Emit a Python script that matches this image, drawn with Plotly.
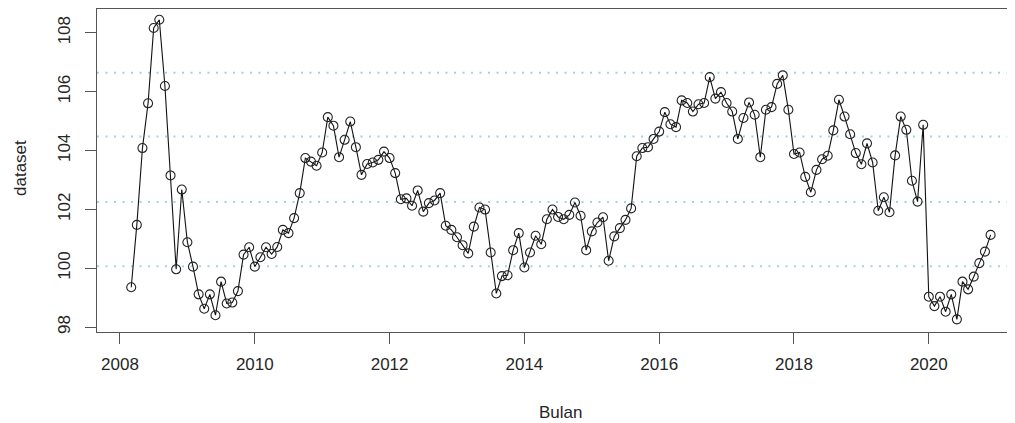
import plotly.graph_objects as go

start_year = 2008
start_month = 3  # March 2008

values = [
    99.35, 101.47, 104.08, 105.60, 108.16, 108.44, 106.19, 103.15, 99.96, 102.67,
    100.88, 100.05, 99.11, 98.62, 99.11, 98.40, 99.54, 98.80, 98.83, 99.22,
    100.46, 100.71, 100.05, 100.37, 100.71, 100.48, 100.72, 101.30, 101.19, 101.70,
    102.55, 103.74, 103.62, 103.48, 103.93, 105.13, 104.84, 103.77, 104.36, 104.98,
    104.11, 103.17, 103.54, 103.59, 103.68, 103.96, 103.74, 103.23, 102.34, 102.37,
    102.12, 102.64, 101.92, 102.21, 102.30, 102.55, 101.44, 101.30, 101.05, 100.78,
    100.50, 101.41, 102.06, 101.99, 100.53, 99.14, 99.73, 99.76, 100.61, 101.19,
    100.02, 100.53, 101.10, 100.81, 101.66, 101.99, 101.74, 101.66, 101.81, 102.23,
    101.78, 100.61, 101.25, 101.55, 101.73, 100.25, 101.08, 101.36, 101.64, 102.03,
    103.80, 104.08, 104.11, 104.39, 104.64, 105.30, 104.89, 104.79, 105.70, 105.61,
    105.32, 105.57, 105.61, 106.49, 105.76, 105.98, 105.61, 105.32, 104.39, 105.10,
    105.63, 105.21, 103.77, 105.38, 105.47, 106.26, 106.55, 105.38, 103.88, 103.93,
    103.10, 102.58, 103.34, 103.70, 103.82, 104.68, 105.72, 105.15, 104.55, 103.91,
    103.53, 104.24, 103.59, 101.95, 102.41, 101.90, 103.83, 105.15, 104.70, 102.97,
    102.26, 104.87, 99.03, 98.71, 99.03, 98.52, 99.11, 98.26, 99.54, 99.28,
    99.71, 100.17, 100.56, 101.13,
]

ref_lines = [106.64, 104.47, 102.25, 100.06]
x_ticks = [2008, 2010, 2012, 2014, 2016, 2018, 2020]
y_ticks = [98, 100, 102, 104, 106, 108]

times = [start_year + (start_month - 1 + i) / 12 for i in range(len(values))]

FONT = "Liberation Sans, Arial, sans-serif"
TXT = "#262626"

# page body has an 8px margin; figure spans page x 8..1015, y 8..423
PH = 323  # plot-area height in px (page y 9..332)
PW = 918  # plot-area width in px (page x 97..1015)

fig = go.Figure()

for h in ref_lines:
    fig.add_shape(type="line", xref="paper", x0=0, x1=1, yref="y", y0=h, y1=h,
                  line=dict(color="#a6d2e3", width=2, dash="2px,6.5px"), layer="below")

fig.add_trace(go.Scatter(
    x=times, y=values, mode="lines+markers",
    line=dict(color="#111111", width=1.1),
    marker=dict(symbol="circle-open", size=9, color="#222222", line=dict(width=1.1)),
    showlegend=False, hoverinfo="x+y",
))

fig.update_layout(
    width=1007, height=415,
    margin=dict(l=89, r=0, t=1, b=91, pad=0),
    paper_bgcolor="white", plot_bgcolor="white",
    font=dict(family=FONT, size=17, color=TXT),
    xaxis=dict(
        range=[2007.659, 2021.279], tickvals=x_ticks,
        ticktext=[str(t) for t in x_ticks],
        showgrid=False, zeroline=False, automargin=False,
        showline=True, mirror=True, linecolor="#555555", linewidth=1.3,
        ticks="outside", ticklen=11, tickwidth=1.2, tickcolor="#555555",
        ticklabelstandoff=5,
        tickfont=dict(family=FONT, size=17, color=TXT),
    ),
    yaxis=dict(
        range=[97.83, 108.805], tickvals=y_ticks,
        ticktext=[str(t) for t in y_ticks],
        showgrid=False, zeroline=False, automargin=False,
        showline=True, mirror=False, linecolor="#555555", linewidth=1.3,
        ticks="outside", ticklen=11, tickwidth=1.2, tickcolor="#555555",
        tickangle=-90, ticklabelstandoff=8,
        tickfont=dict(family=FONT, size=17, color=TXT),
    ),
    annotations=[
        dict(text="Bulan", xref="paper", yref="paper", x=(560 - 97) / PW, y=-(412 - 332) / PH,
             xanchor="center", yanchor="middle", showarrow=False,
             font=dict(family=FONT, size=17, color=TXT)),
        dict(text="dataset", xref="paper", yref="paper", x=(20 - 97) / PW, y=(332 - 168) / PH,
             xanchor="center", yanchor="middle", showarrow=False, textangle=-90,
             font=dict(family=FONT, size=17, color=TXT)),
    ],
)

fig.write_html("out.html")
